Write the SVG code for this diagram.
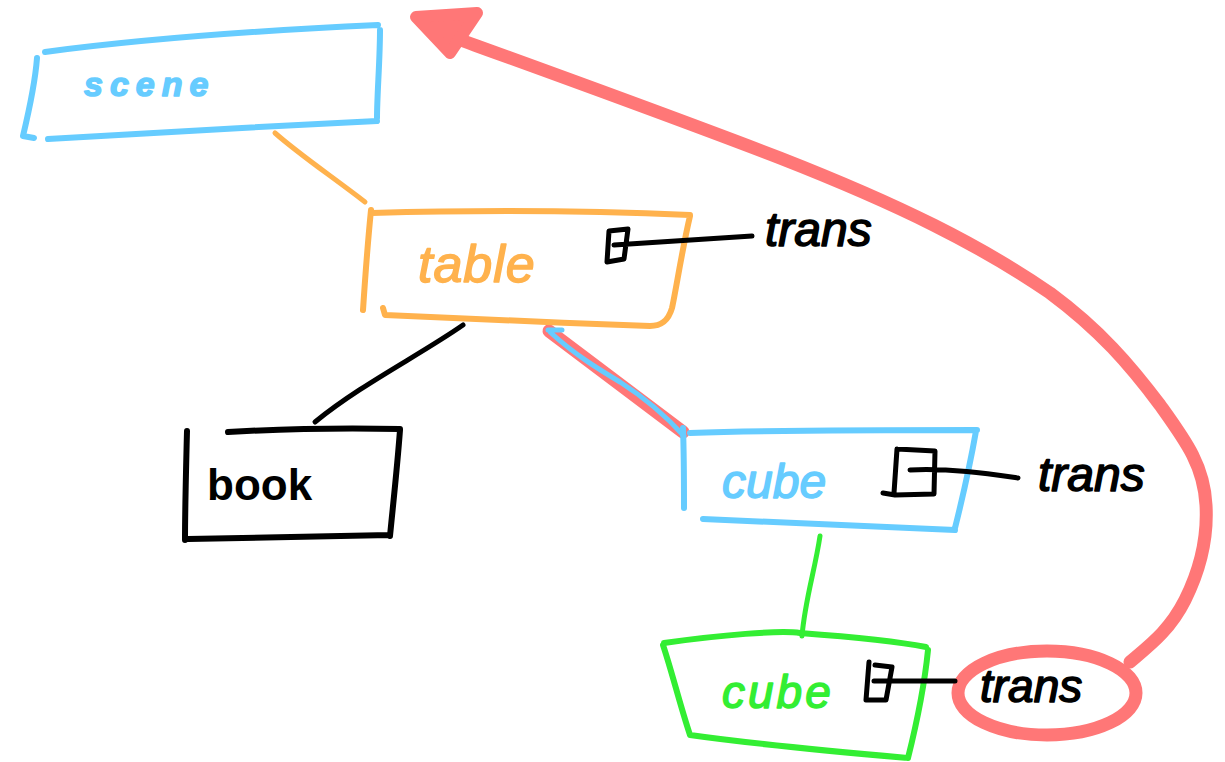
<svg xmlns="http://www.w3.org/2000/svg" width="1225" height="762" viewBox="0 0 1225 762">
  <defs>
    <style>
      .ink { fill: none; stroke-linecap: round; stroke-linejoin: round; }
      .blue { stroke: #66ccff; }
      .orange { stroke: #ffb24d; }
      .green { stroke: #33ee33; }
      .black { stroke: #000000; }
      .red { stroke: #ff7777; }
      .box { stroke-width: 6; }
      .wire { stroke-width: 5; }
      .label { font-family: "Liberation Sans", "DejaVu Sans", sans-serif; }
      .hand { font-style: italic; stroke-width: 1.5; stroke-linejoin: round; }
    </style>
  </defs>
  <rect width="1225" height="762" fill="#ffffff"/>

  <!-- connectors -->
  <g id="connectors">
    <path class="ink orange wire" d="M275,133 C300,155 330,175 365,202"/>
    <path class="ink black wire" d="M463,325 C420,355 360,385 315,422"/>
    <path class="ink red" stroke-width="13" d="M549,331 L683,432"/>
    <path class="ink blue wire" d="M548,330 L562,330 M550,332 C575,355 600,370 620,382 C645,398 665,415 684,436"/>
    <path class="ink green wire" d="M820,536 C815,570 805,600 802,636"/>
    <!-- highlight loop from the inner trans back to the top -->
    <ellipse class="ink red" stroke-width="13" cx="1047" cy="693" rx="89" ry="42"/>
    <path class="ink red" stroke-width="13" d="M1130,662 C1150,645 1170,630 1185,600 C1200,570 1208,540 1206,505 C1204,465 1185,440 1160,405 C1130,365 1100,330 1050,293 C980,245 900,205 780,158 C660,112 560,76 455,38"/>
    <polygon points="416,17 477,13 450,53" fill="#ff7777" stroke="#ff7777" stroke-width="12" stroke-linejoin="round"/>
  </g>

  <!-- scene -->
  <g id="node-scene">
    <path class="ink blue box" d="M45,52 C150,38 270,30 378,25 M380,30 C380,60 377,95 377,118 M48,139 C150,133 270,126 377,121 M37,58 C35,85 28,115 23,136 L34,138"/>
    <text class="label hand" x="84" y="96" font-size="34" font-weight="bold" fill="#66ccff" stroke="#66ccff" letter-spacing="7">scene</text>
  </g>

  <!-- table -->
  <g id="node-table">
    <path class="ink orange box" d="M372,213 C480,210 600,211 690,215 M690,216 C682,250 676,290 672,308 C668,322 660,326 650,326 C560,323 450,318 385,315 L383,308 M371,210 C368,240 365,280 363,310"/>
    <text class="label hand" x="418" y="282" font-size="52" fill="#ffb24d" stroke="#ffb24d" letter-spacing="1">table</text>
    <path class="ink black wire" d="M609,231 L628,229 L624,259 L607,262 Z M614,245 L752,236"/>
    <text class="label hand" x="765" y="246" font-size="48" fill="#000000" stroke="#000000">trans</text>
  </g>

  <!-- book -->
  <g id="node-book">
    <path class="ink black box" d="M228,432 C300,428 360,428 400,429 M400,430 C397,470 393,505 390,536 M188,539 C260,537 330,536 390,535 M187,431 C186,470 185,510 185,540"/>
    <text class="label" x="207" y="500" font-size="44" fill="#000000" font-weight="bold">book</text>
  </g>

  <!-- cube (blue) -->
  <g id="node-cube">
    <path class="ink blue box" d="M690,433 C780,430 880,430 977,430 M976,431 C970,465 962,500 955,528 M703,519 C780,522 880,527 955,530 M683,428 C684,455 684,485 684,508"/>
    <text class="label hand" x="722" y="498" font-size="48" fill="#66ccff" stroke="#66ccff">cube</text>
    <path class="ink black wire" d="M897,449 L935,451 L934,494 L895,495 L883,493 M897,449 L894,493 M910,470 C950,468 990,474 1018,478"/>
    <text class="label hand" x="1038" y="491" font-size="48" fill="#000000" stroke="#000000">trans</text>
  </g>

  <!-- cube (green) -->
  <g id="node-cube-child">
    <path class="ink green box" d="M664,643 C720,635 780,630 800,633 C840,636 890,640 926,647 M928,650 C924,690 915,730 908,758 M690,735 C760,745 840,752 908,758 M663,645 C672,672 680,705 690,735"/>
    <text class="label hand" x="722" y="708" font-size="46" fill="#33ee33" stroke="#33ee33" letter-spacing="3">cube</text>
    <path class="ink black wire" d="M869,662 L866,700 L886,700 L892,667 L875,665 M874,681 L955,681"/>
    <text class="label hand" x="980" y="702" font-size="46" fill="#000000" stroke="#000000">trans</text>
  </g>
</svg>
